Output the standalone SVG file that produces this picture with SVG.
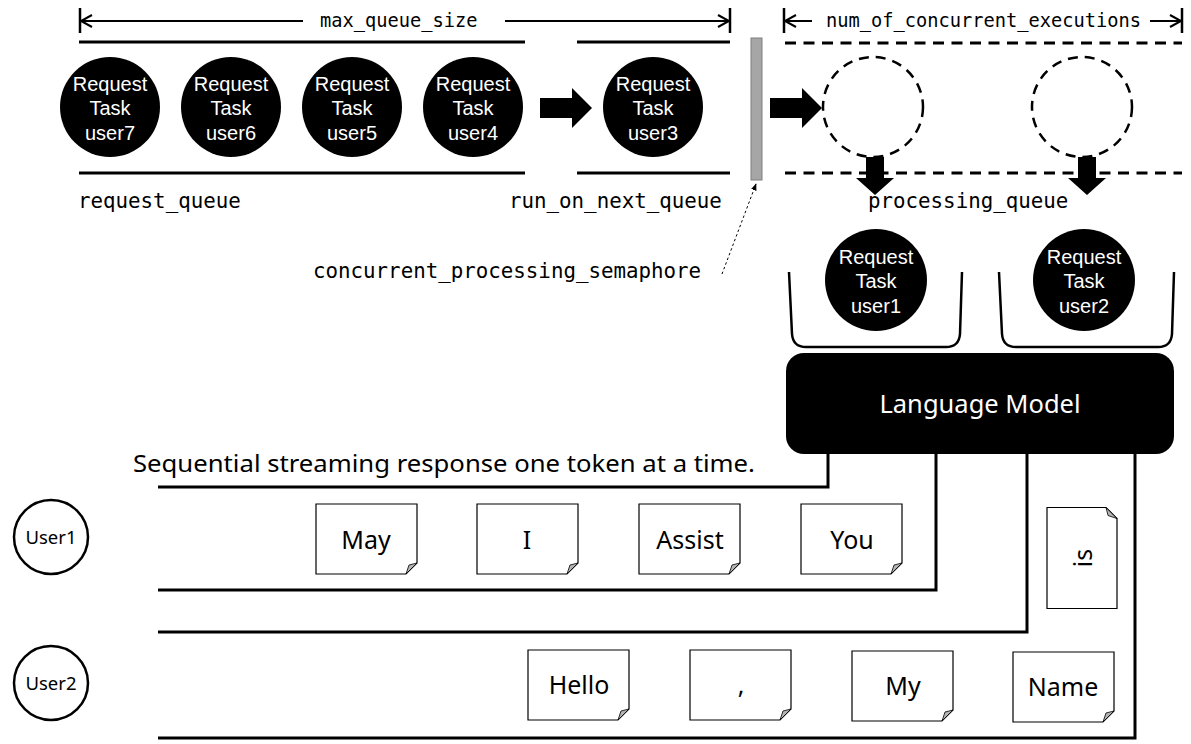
<svg xmlns="http://www.w3.org/2000/svg" width="1191" height="744" viewBox="0 0 1191 744">
<style>
.mono{font-family:"DejaVu Sans Mono","Liberation Mono",monospace;fill:#000}
.sans{font-family:"Noto Sans","Liberation Sans",sans-serif}
.ct{font-family:"Liberation Sans",Arial,sans-serif;font-size:20px;fill:#fff;text-anchor:middle}
.tt{font-family:"Noto Sans","Liberation Sans",sans-serif;font-size:25px;fill:#000;text-anchor:middle}
.ball{fill:#000}
.qline{stroke:#000;stroke-width:3;fill:none}
.dline{stroke:#000;stroke-width:3;fill:none;stroke-dasharray:11 7.5}
.dcirc{stroke:#000;stroke-width:2.5;fill:none;stroke-dasharray:10 7}
.dim{stroke:#000;stroke-width:2;fill:none}
.tick{stroke:#000;stroke-width:2.5}
.wire{stroke:#000;stroke-width:3;fill:none}
.box{fill:#fff;stroke:#000;stroke-width:1.2}
.fold{fill:#b3b3b3;stroke:#000;stroke-width:0.8}
.bucket{stroke:#000;stroke-width:2.5;fill:none}
.user{fill:#fff;stroke:#000;stroke-width:2.5}
</style>
<defs>
<g id="tok">
<path class="box" d="M0,0 H101 V59 L90,70 H0 Z"/>
<path class="fold" d="M101,59 L90,70 L93,61 Z"/>
</g>
<marker id="ah" viewBox="0 0 10 10" refX="9" refY="5" markerWidth="7" markerHeight="7" orient="auto">
<path d="M0,1 L10,5 L0,9 Z" fill="#000"/>
</marker>
</defs>
<rect width="1191" height="744" fill="#fff"/>

<g id="request_queue">
<line class="qline" x1="79" y1="42" x2="525" y2="42"/>
<line class="qline" x1="79" y1="173" x2="525" y2="173"/>
<text class="mono" x="78" y="208" font-size="20.8">request_queue</text>
</g>
<g id="run_on_next_queue">
<line class="qline" x1="577" y1="42" x2="730" y2="42"/>
<line class="qline" x1="577" y1="173" x2="730" y2="173"/>
<text class="mono" x="509" y="208" font-size="20.8">run_on_next_queue</text>
</g>
<g id="processing_queue">
<line class="dline" x1="785" y1="43" x2="1182" y2="43"/>
<line class="dline" x1="785" y1="173" x2="1182" y2="173"/>
<circle class="dcirc" cx="873" cy="107" r="50"/>
<circle class="dcirc" cx="1082" cy="107" r="50"/>
<text class="mono" x="868" y="208" font-size="20.8">processing_queue</text>
</g>

<g id="task_user7"><circle class="ball" cx="110" cy="107" r="50"/>
<text class="ct" x="110" y="91">Request</text><text class="ct" x="110" y="115">Task</text><text class="ct" x="110" y="140">user7</text></g>
<g id="task_user6"><circle class="ball" cx="231" cy="107" r="50"/>
<text class="ct" x="231" y="91">Request</text><text class="ct" x="231" y="115">Task</text><text class="ct" x="231" y="140">user6</text></g>
<g id="task_user5"><circle class="ball" cx="352" cy="107" r="50"/>
<text class="ct" x="352" y="91">Request</text><text class="ct" x="352" y="115">Task</text><text class="ct" x="352" y="140">user5</text></g>
<g id="task_user4"><circle class="ball" cx="473" cy="107" r="50"/>
<text class="ct" x="473" y="91">Request</text><text class="ct" x="473" y="115">Task</text><text class="ct" x="473" y="140">user4</text></g>
<g id="task_user3"><circle class="ball" cx="653" cy="107" r="50"/>
<text class="ct" x="653" y="91">Request</text><text class="ct" x="653" y="115">Task</text><text class="ct" x="653" y="140">user3</text></g>

<g id="semaphore">
<rect x="751" y="38" width="11" height="142" fill="#a6a6a6" stroke="#7f7f7f" stroke-width="1"/>
<text class="mono" x="313" y="278" font-size="20.8">concurrent_processing_semaphore</text>
</g>

<g id="dimensions">
<line class="tick" x1="80" y1="8" x2="80" y2="33"/>
<line class="dim" x1="80" y1="21" x2="303" y2="21"/>
<polyline class="dim" points="92,15 81,21 92,27"/>
<text class="mono" x="320" y="27" font-size="18.7">max_queue_size</text>
<line class="dim" x1="505" y1="21" x2="729" y2="21"/>
<polyline class="dim" points="718,15 729,21 718,27"/>
<line class="tick" x1="730" y1="8" x2="730" y2="33"/>
<line class="tick" x1="784" y1="8" x2="784" y2="33"/>
<line class="dim" x1="785" y1="21" x2="812" y2="21"/>
<polyline class="dim" points="796,15 785,21 796,27"/>
<text class="mono" x="826" y="27" font-size="18.7">num_of_concurrent_executions</text>
<line class="dim" x1="1150" y1="21" x2="1181" y2="21"/>
<polyline class="dim" points="1170,15 1181,21 1170,27"/>
<line class="tick" x1="1182" y1="8" x2="1182" y2="33"/>
</g>

<g id="bucket1">
<path class="bucket" d="M789,272 L792,334 Q793,347 806,347 L946,347 Q959,347 960,334 L962,272"/>
<circle class="ball" cx="876" cy="280" r="51"/>
<text class="ct" x="876" y="264">Request</text><text class="ct" x="876" y="288">Task</text><text class="ct" x="876" y="313">user1</text>
</g>
<g id="bucket2">
<path class="bucket" d="M999,272 L1002,334 Q1003,347 1016,347 L1158,347 Q1171,347 1172,334 L1174,272"/>
<circle class="ball" cx="1084" cy="280" r="51"/>
<text class="ct" x="1084" y="264">Request</text><text class="ct" x="1084" y="288">Task</text><text class="ct" x="1084" y="313">user2</text>
</g>

<g id="language_model">
<rect x="786" y="353" width="388" height="101" rx="18" fill="#000"/>
<text class="sans" x="980" y="413" font-size="25.5" fill="#fff" text-anchor="middle">Language Model</text>
</g>

<text class="sans" x="133" y="472" font-size="23" textLength="622" lengthAdjust="spacingAndGlyphs" fill="#000">Sequential streaming response one token at a time.</text>

<g id="user1"><circle class="user" cx="51" cy="537" r="37"/>
<text class="sans" x="51" y="544" font-size="18.5" text-anchor="middle">User1</text></g>
<g id="user2"><circle class="user" cx="51" cy="683" r="37"/>
<text class="sans" x="51" y="690" font-size="18.5" text-anchor="middle">User2</text></g>

<g id="connectors">
<polygon points="540,98 572,98 572,88 592,108 572,128 572,118 540,118" fill="#000"/>
<polygon points="770,98 802,98 802,88 822,108 802,128 802,118 770,118" fill="#000"/>
<polygon points="866,157 884,157 884,178 894,178 875,195 856,178 866,178" fill="#000"/>
<polygon points="1078,157 1096,157 1096,178 1106,178 1087,195 1068,178 1078,178" fill="#000"/>
<line x1="722" y1="274" x2="756" y2="184" stroke="#000" stroke-width="1" stroke-dasharray="2.5 2.5" marker-end="url(#ah)"/>
<polyline class="wire" points="828,454 828,487 158,487"/>
<polyline class="wire" points="936,454 936,590 158,590"/>
<polyline class="wire" points="1027,454 1027,632 158,632"/>
<polyline class="wire" points="1135,454 1135,738 158,738"/>
</g>

<g id="tok_may"><use href="#tok" x="316" y="504"/><text class="tt" x="366" y="549">May</text></g>
<g id="tok_i"><use href="#tok" x="477" y="504"/><text class="tt" x="527" y="549">I</text></g>
<g id="tok_assist"><use href="#tok" x="639" y="504"/><text class="tt" x="690" y="549">Assist</text></g>
<g id="tok_you"><use href="#tok" x="801" y="504"/><text class="tt" x="852" y="549">You</text></g>
<g id="tok_is" transform="translate(1082.5,558) rotate(-90)"><use href="#tok" x="-50.5" y="-35.5"/><text class="tt" x="0" y="9">is</text></g>
<g id="tok_hello"><use href="#tok" x="528" y="650"/><text class="tt" x="579" y="694">Hello</text></g>
<g id="tok_comma"><use href="#tok" x="690" y="650"/><text class="tt" x="741" y="694">,</text></g>
<g id="tok_my"><use href="#tok" x="852" y="651"/><text class="tt" x="903" y="695">My</text></g>
<g id="tok_name"><use href="#tok" x="1013" y="652"/><text class="tt" x="1063" y="696">Name</text></g>
</svg>
